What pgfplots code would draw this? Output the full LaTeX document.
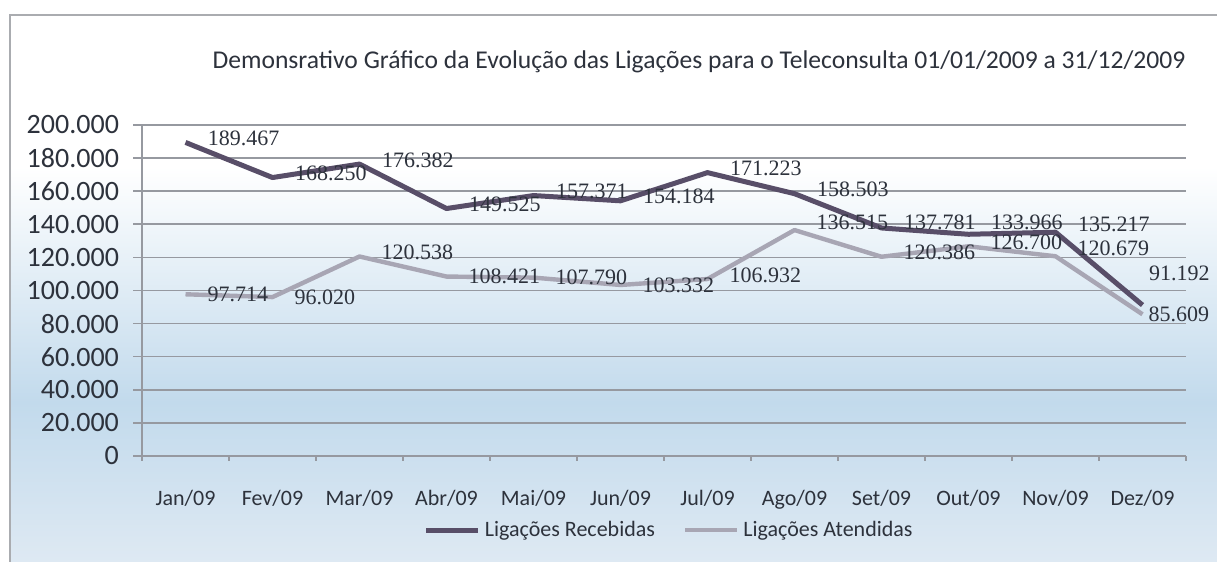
\documentclass[border=0pt]{standalone}
\usepackage{fontspec}
\setmainfont{Carlito}
\newfontfamily\labfont{Liberation Serif}
\usepackage{pgfplots}
\pgfplotsset{compat=1.18}

\definecolor{rec}{RGB}{88,78,104}
\definecolor{ate}{RGB}{168,166,180}
\definecolor{gridc}{RGB}{150,153,160}
\definecolor{framec}{RGB}{170,172,176}
\definecolor{bgblue}{RGB}{194,218,236}
\definecolor{bglow}{RGB}{222,233,243}
\definecolor{txt}{RGB}{45,50,60}

% one row per month: x, calls, label shift right and up (pt)
\pgfplotstableread{
x y dx dy
0 189467 8 2
1 168250 8 2
2 176382 8 2
3 149525 8 2
4 157371 8 2
5 154184 8 2
6 171223 8 2
7 158503 8 2
8 137781 8 3
9 133966 8 6
10 135217 8 4
11 91192 0 16
}\recebidas

\pgfplotstableread{
x y dx dy
0 97714 8 0
1 96020 8 0
2 120538 8 2
3 108421 8 0
4 107790 8 0
5 103332 8 0
6 106932 8 2
7 136515 8 4
8 120386 8 2
9 126700 8 2
10 120679 8 4
11 85609 0 0
}\atendidas

\begin{document}
\begin{tikzpicture}
\useasboundingbox (0,0) rectangle (608.5pt,281pt);
\begin{scope}[x=0.5pt,y=0.5pt]
  \fill[white] (10,0) rectangle (1217,547);
  \shade[top color=white, bottom color=bgblue] (10,160) rectangle (1217,395);
  \shade[top color=bgblue, bottom color=bglow] (10,0) rectangle (1217,160.5);
  \draw[framec, line width=1pt] (10,0) -- (10,547) -- (1217,547);
  \node[font=\fontsize{12.8}{15}\selectfont, text=txt] at (699,500)
    {Demonsrativo Gráfico da Evolução das Ligações para o Teleconsulta 01/01/2009 a 31/12/2009};
\end{scope}
\begin{axis}[
  scale only axis, width=522pt, height=165.5pt,
  at={(71pt,53pt)}, anchor=south west,
  xmin=-0.5, xmax=11.5, ymin=0, ymax=200000,
  axis lines*=left, axis line style={gridc, line width=0.8pt},
  tick align=outside, major tick length=4.5pt, minor tick length=2.5pt,
  xtick={0,...,11},
  xticklabels={Jan/09,Fev/09,Mar/09,Abr/09,Mai/09,Jun/09,Jul/09,Ago/09,Set/09,Out/09,Nov/09,Dez/09},
  major x tick style={draw=none},
  minor xtick={-0.5,0.5,...,11.5},
  minor x tick style={gridc, line width=0.8pt},
  xticklabel style={font=\fontsize{11}{13}\selectfont, text=txt, yshift=-9pt},
  ytick={0,20000,...,200000}, scaled y ticks=false,
  ytick style={gridc, line width=0.8pt},
  yticklabel style={font=\fontsize{14}{16}\selectfont, text=txt, xshift=-3.5pt,
    /pgf/number format/fixed, /pgf/number format/precision=0,
    /pgf/number format/1000 sep={.}, /pgf/number format/assume math mode=true},
  ymajorgrids, grid style={gridc, line width=0.8pt},
  clip=false,
  legend style={at={(0.506,-0.224)}, anchor=center, draw=none, fill=none,
    legend columns=2, font=\fontsize{11}{13}\selectfont, text=txt,
    /tikz/every even column/.append style={column sep=12pt}},
  legend image code/.code={\draw[#1] (0pt,0pt) -- (26pt,0pt);},
  every node near coord/.append style={font=\labfont\fontsize{11}{13}\selectfont, text=txt,
    anchor=west, inner sep=2pt,
    /pgf/number format/fixed, /pgf/number format/precision=0,
    /pgf/number format/1000 sep={.}, /pgf/number format/assume math mode=true},
]
\addplot[rec, line width=2.5pt, line join=round, nodes near coords,
  visualization depends on={\thisrow{dx}\as\labdx},
  visualization depends on={\thisrow{dy}\as\labdy},
  every node near coord/.append style={xshift=\labdx, yshift=\labdy}]
  table[x=x, y=y] {\recebidas};
\addlegendentry{Ligações Recebidas}
\addplot[ate, line width=2.2pt, line join=round, nodes near coords,
  visualization depends on={\thisrow{dx}\as\labdx},
  visualization depends on={\thisrow{dy}\as\labdy},
  every node near coord/.append style={xshift=\labdx, yshift=\labdy}]
  table[x=x, y=y] {\atendidas};
\addlegendentry{Ligações Atendidas}
\end{axis}
\end{tikzpicture}
\end{document}
